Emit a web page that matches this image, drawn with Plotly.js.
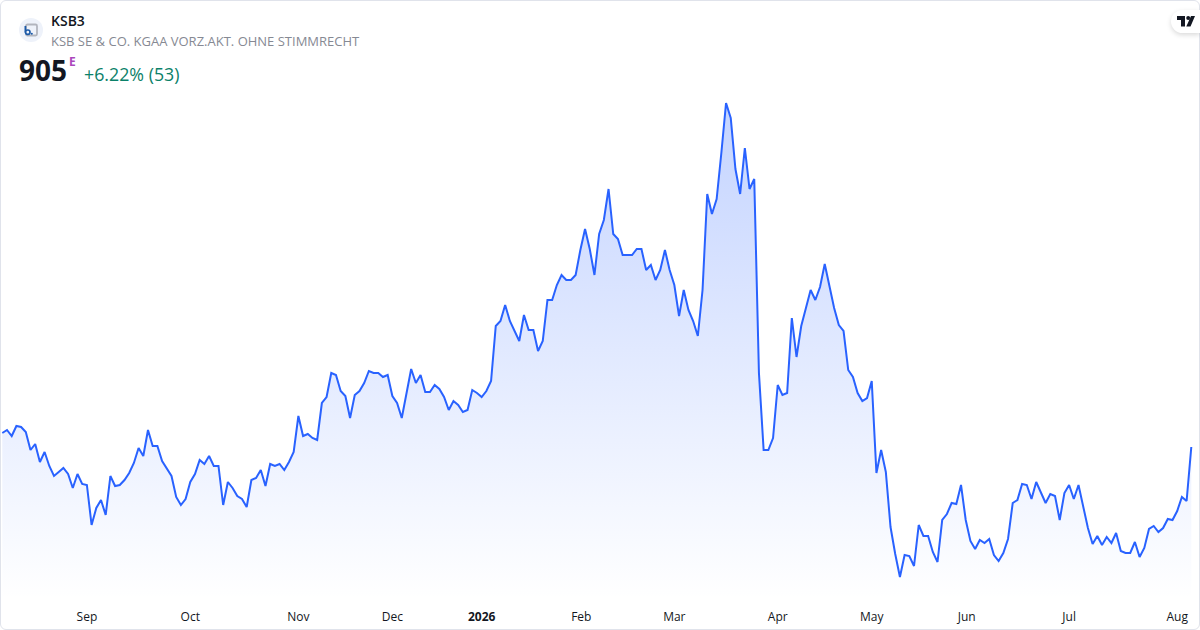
<!DOCTYPE html>
<html>
<head>
<meta charset="utf-8">
<script src="https://cdn.plot.ly/plotly-3.0.1.min.js"></script>
<style>
html,body{margin:0;padding:0;background:#fff;width:1200px;height:630px;overflow:hidden}
#chart{position:absolute;left:0;top:0;width:1200px;height:630px}
#frame{position:absolute;left:0;top:0;width:1198px;height:628px;border:1px solid #e0e3eb;border-radius:6px;pointer-events:none}
#badge{position:absolute;left:1171px;top:10px;width:29px;height:23px;background:#fff;border-radius:12px 0 0 12px;box-shadow:0 2px 5px rgba(0,0,0,.15)}
#badge svg{position:absolute;left:6px;top:6px}
#logo{position:absolute;left:19px;top:18px}
</style>
</head>
<body>
<div id="chart"></div>
<svg id="logo" width="24" height="24" viewBox="0 0 24 24">
<circle cx="12" cy="12" r="12" fill="#eef2fa"/>
<rect x="7" y="6.5" width="11" height="11" rx="1.5" fill="#eef2fa" stroke="#b2b5be" stroke-width="1.8"/>
<path d="M6.4 8v6.6" stroke="#1c5aa8" stroke-width="1.8" fill="none"/>
<circle cx="8.8" cy="14.2" r="2.2" fill="#eef2fa" stroke="#1c5aa8" stroke-width="1.7"/>
<circle cx="12.8" cy="15.8" r="1" fill="#1c5aa8"/>
</svg>
<div id="frame"></div>
<div id="badge"><svg width="18" height="11" viewBox="0 0 18 11"><path d="M0 0h8v10.5H4V4H0z M9.2 2a2 2 0 1 0 4 0a2 2 0 1 0 -4 0z M14 0h4l-4.5 10.5H9.3z" fill="#131722"/></svg></div>
<script>
const prices = [
919,922,916,926,925,920,902,908,890,900,886,876,880,884,878,864,878,868,867,827,
844,852,837,876,866,867,872,879,889,904,896,922,906,906,891,884,876,855,847,853,
870,878,892,888,896,886,886,847,870,864,856,853,845,872,874,882,866,888,886,888,
882,890,900,936,916,918,914,912,949,955,979,977,961,956,934,957,961,969,981,979,
979,975,977,956,949,934,957,983,969,977,960,960,967,963,955,942,951,947,940,942,
962,959,955,961,971,1026,1031,1047,1031,1021,1011,1037,1022,1022,1001,1011,1052,1052,1067,1077,
1072,1072,1077,1102,1123,1103,1077,1118,1132,1163,1118,1113,1097,1097,1097,1103,1103,1082,1087,1072,
1082,1102,1082,1067,1036,1062,1042,1031,1016,1062,1158,1138,1153,1199,1249,1234,1183,1158,1204,1163,
1173,979,902,902,914,967,957,959,1034,995,1026,1044,1062,1052,1065,1088,1065,1044,1027,1021,
982,975,959,951,954,971,879,902,880,825,798,775,797,796,786,827,816,816,800,790,
832,838,849,848,867,832,811,803,812,809,813,797,791,799,813,849,852,868,867,853,
870,859,849,858,856,832,859,867,853,867,847,824,808,816,807,815,809,819,801,799,
799,810,795,804,823,826,820,824,833,832,841,855,851,905
];
const tickIndex = [18,40,63,83,102,123.2,143,165,185,205.2,227,250];
const tickLabels = ['Sep','Oct','Nov','Dec','<b>2026</b>','Feb','Mar','Apr','May','Jun','Jul','Aug'];
const ticker = 'KSB3';
const companyName = 'KSB SE &amp; CO. KGAA VORZ.AKT. OHNE STIMMRECHT';
const lastPrice = '905';
const sessionFlag = 'E';
const changeText = '+6.22% (53)';

const W = 1200, H = 630, PLOT_H = 600;
const index = prices.map((_, i) => i);
const step = (1191.3 - 2.3) / (prices.length - 1);
const FONT = '"Open Sans", sans-serif';
const px = x => x / W;
const py = y => (PLOT_H - y) / PLOT_H;
const label = (text, x, y, size, color, weight) => ({
  text, xref:'paper', yref:'paper', x:px(x), y:py(y), xanchor:'left', yanchor:'middle',
  showarrow:false, borderpad:0, font:{family:FONT, size, color, weight}
});

Plotly.newPlot('chart', [{
  x:index, y:prices, type:'scatter', mode:'lines', fill:'tozeroy',
  line:{color:'#2962ff', width:2, shape:'linear'},
  fillgradient:{type:'vertical', start:752, stop:1252,
    colorscale:[[0,'rgba(41,98,255,0)'],[1,'rgba(41,98,255,0.28)']]},
  hoverinfo:'skip'
}], {
  width:W, height:H, showlegend:false,
  margin:{l:0, r:0, t:0, b:H-PLOT_H, pad:0},
  paper_bgcolor:'rgba(0,0,0,0)', plot_bgcolor:'rgba(0,0,0,0)',
  xaxis:{range:[-2.3/step, (W-2.3)/step], showgrid:false, zeroline:false, showline:false, ticks:'',
    tickmode:'array', tickvals:tickIndex, ticktext:tickLabels, ticklabelstandoff:8,
    tickfont:{family:FONT, size:12, color:'#131722'}, automargin:false, fixedrange:true},
  yaxis:{range:[752,1352], showgrid:false, zeroline:false, showline:false, showticklabels:false, ticks:'', fixedrange:true},
  annotations:[
    label(ticker, 50, 20.6, 14, '#131722', 600),
    label(companyName, 50, 40.6, 13, '#868993', 400),
    label(lastPrice, 18, 70, 28, '#131722', 700),
    label(sessionFlag, 68, 61, 12, '#ab47bc', 700),
    label(changeText, 83, 74, 17.8, '#0b8169', 400)
  ]
}, {displayModeBar:false, staticPlot:true});
</script>
</body>
</html>
